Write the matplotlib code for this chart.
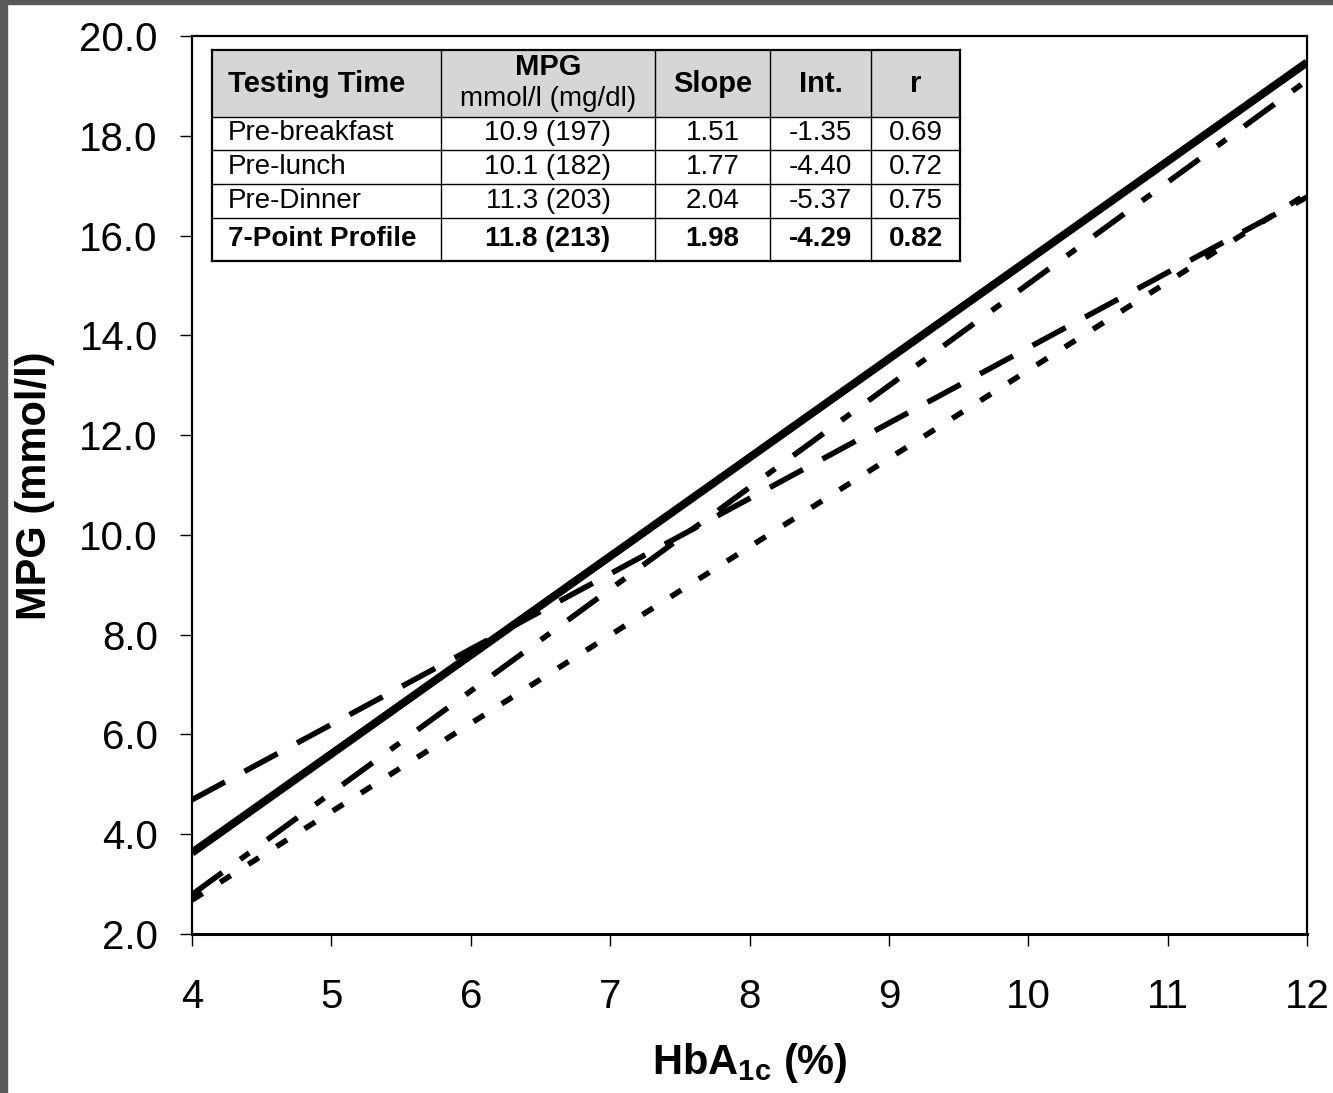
import numpy as np
import matplotlib
matplotlib.use("Agg")
import matplotlib.pyplot as plt
from matplotlib.patches import Rectangle

plt.rcParams['font.family'] = ['Liberation Sans', 'DejaVu Sans']
plt.rcParams['mathtext.fontset'] = 'custom'
plt.rcParams['mathtext.bf'] = 'Liberation Sans:bold'
plt.rcParams['mathtext.rm'] = 'Liberation Sans'
plt.rcParams['lines.scale_dashes'] = False

# table data
testing_time = ['Pre-breakfast', 'Pre-lunch', 'Pre-Dinner', '7-Point Profile']
mpg_text = ['10.9 (197)', '10.1 (182)', '11.3 (203)', '11.8 (213)']
slope = [1.51, 1.77, 2.04, 1.98]
intercept = [-1.35, -4.40, -5.37, -4.29]
r_value = [0.69, 0.72, 0.75, 0.82]

hba1c_range = np.array([4, 12])
x_ticks = [4, 5, 6, 7, 8, 9, 10, 11, 12]
y_ticks = [2, 4, 6, 8, 10, 12, 14, 16, 18, 20]

# line styles per testing time
styles = [
    dict(ls=(0, (27, 16)), lw=4.0),
    dict(ls=(0, (9, 15)), lw=4.0),
    dict(ls=(0, (27, 16, 8, 16)), lw=4.0),
    dict(ls='-', lw=5.8),
]

W, H = 1333, 1093
fig = plt.figure(figsize=(W / 100, H / 100), dpi=100)
ax = fig.add_axes([192 / W, 1 - 934 / H, (1307 - 192) / W, (934 - 36) / H])

for s, b, st in zip(slope, intercept, styles):
    ax.plot(hba1c_range, s * hba1c_range + b, color='black',
            solid_capstyle='butt', dash_capstyle='butt', **st)

ax.set_xlim(4, 12)
ax.set_ylim(2, 20)
ax.set_xticks(x_ticks)
ax.set_xticklabels([str(t) for t in x_ticks])
ax.set_yticks(y_ticks)
ax.set_yticklabels(['%.1f' % t for t in y_ticks])
ax.tick_params(axis='both', direction='out', length=8.6, width=1.0, labelsize=29)
ax.tick_params(axis='y', pad=16)
ax.tick_params(axis='x', pad=23)
for side in ['left', 'top', 'right']:
    ax.spines[side].set_linewidth(1.6)
ax.spines['bottom'].set_linewidth(2.2)

fig.text(35 / W, 1 - 486 / H, 'MPG (mmol/l)', rotation=90, ha='center', va='center',
         fontsize=30, fontweight='bold')
fig.text(750 / W, 1 - 1063 / H, r'HbA$_{\mathbf{1c}}$ (%)', ha='center', va='center',
         fontsize=30, fontweight='bold')


# table drawn in axes fraction, from pixel layout of the figure
def fx(px):
    return (px - 192) / 1115


def fy(py):
    return (934 - py) / 898


col_edges = [212, 441, 655, 770, 871, 960]
row_edges = [50, 117, 150, 184, 218, 261]

ax.add_patch(Rectangle((fx(col_edges[0]), fy(row_edges[1])),
                       fx(col_edges[-1]) - fx(col_edges[0]), fy(row_edges[0]) - fy(row_edges[1]),
                       transform=ax.transAxes, facecolor='#d6d6d6', edgecolor='none', zorder=5))
for x in col_edges:
    lw = 1.6 if x in (col_edges[0], col_edges[-1]) else 1.0
    ax.plot([fx(x), fx(x)], [fy(row_edges[0]), fy(row_edges[-1])], color='black', lw=lw,
            transform=ax.transAxes, zorder=6, clip_on=False)
for y in row_edges:
    lw = 1.6 if y in (row_edges[0], row_edges[-1]) else 1.0
    ax.plot([fx(col_edges[0]), fx(col_edges[-1])], [fy(y), fy(y)], color='black', lw=lw,
            transform=ax.transAxes, zorder=6, clip_on=False)

tsize = 20
hy = fy((row_edges[0] + row_edges[1]) / 2)
ax.text(fx(228), hy, 'Testing Time', ha='left', va='center', fontsize=21,
        fontweight='bold', transform=ax.transAxes, zorder=7)
cx = [(col_edges[i] + col_edges[i + 1]) / 2 for i in range(len(col_edges) - 1)]
ax.text(fx(cx[1]), fy(67), 'MPG', ha='center', va='center', fontsize=21,
        fontweight='bold', transform=ax.transAxes, zorder=7)
ax.text(fx(cx[1]), fy(99), 'mmol/l (mg/dl)', ha='center', va='center', fontsize=tsize,
        transform=ax.transAxes, zorder=7)
for i, lab in zip([2, 3, 4], ['Slope', 'Int.', 'r']):
    ax.text(fx(cx[i]), hy, lab, ha='center', va='center', fontsize=21,
            fontweight='bold', transform=ax.transAxes, zorder=7)

for k in range(len(testing_time)):
    yc = fy((row_edges[k + 1] + row_edges[k + 2]) / 2)
    wt = 'bold' if k == len(testing_time) - 1 else 'normal'
    cells = [mpg_text[k], '%.2f' % slope[k], '%.2f' % intercept[k], '%.2f' % r_value[k]]
    ax.text(fx(228), yc, testing_time[k], ha='left', va='center', fontsize=tsize,
            fontweight=wt, transform=ax.transAxes, zorder=7)
    for i, c in enumerate(cells):
        ax.text(fx(cx[i + 1]), yc, c, ha='center', va='center', fontsize=tsize,
                fontweight=wt, transform=ax.transAxes, zorder=7)

# dark scan border on left and top
fig.add_artist(Rectangle((0, 0), 7 / W, 1, transform=fig.transFigure, color='#595959'))
fig.add_artist(Rectangle((0, 1 - 4 / H), 1, 4 / H, transform=fig.transFigure, color='#595959'))

fig.savefig('out.png', dpi=100)
